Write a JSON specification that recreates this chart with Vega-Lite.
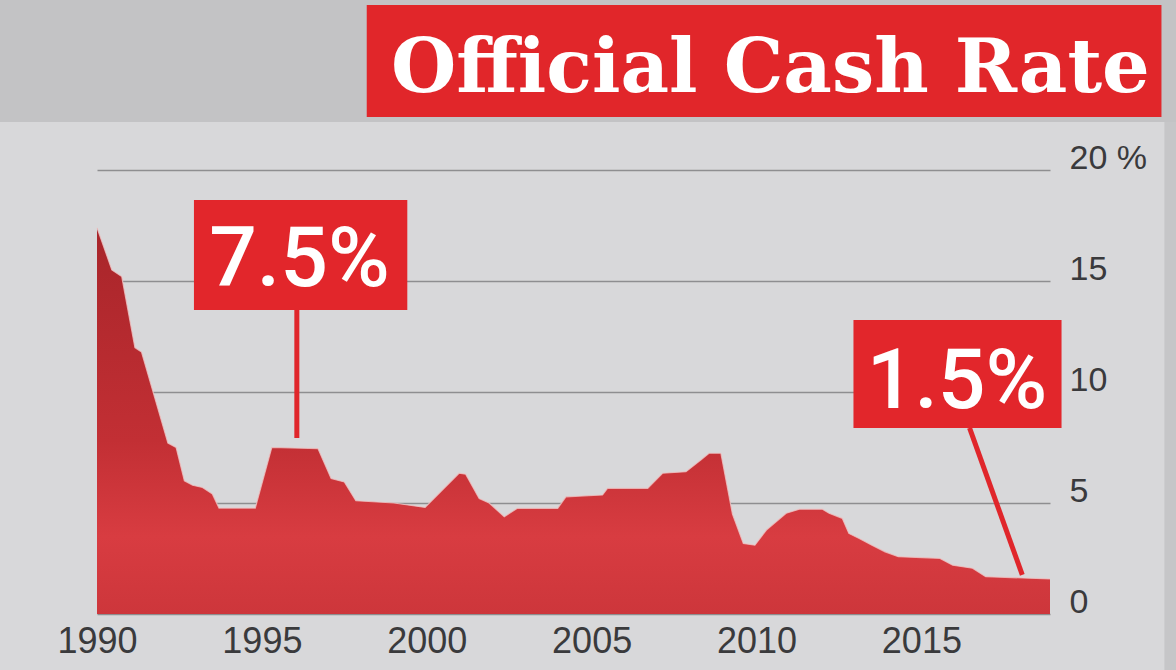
{
  "$schema": "https://vega.github.io/schema/vega-lite/v6.json",
  "width": 953,
  "height": 444,
  "autosize": {"type": "none"},
  "padding": {"left": 97, "top": 170, "right": 126, "bottom": 56},
  "background": "#d8d8da",
  "config": {"view": {"stroke": null}},
  "data": {
    "values": [
      {"year": 1990.0, "rate": 17.4},
      {"year": 1990.45, "rate": 15.5},
      {"year": 1990.75, "rate": 15.2},
      {"year": 1991.15, "rate": 12.0},
      {"year": 1991.35, "rate": 11.8},
      {"year": 1992.15, "rate": 7.7},
      {"year": 1992.4, "rate": 7.5},
      {"year": 1992.65, "rate": 6.0},
      {"year": 1992.9, "rate": 5.8},
      {"year": 1993.2, "rate": 5.7},
      {"year": 1993.5, "rate": 5.4},
      {"year": 1993.7, "rate": 4.77},
      {"year": 1994.8, "rate": 4.77},
      {"year": 1995.3, "rate": 7.5},
      {"year": 1996.7, "rate": 7.45},
      {"year": 1997.1, "rate": 6.1},
      {"year": 1997.5, "rate": 5.95},
      {"year": 1997.85, "rate": 5.1},
      {"year": 1999.0, "rate": 5.0},
      {"year": 1999.95, "rate": 4.8},
      {"year": 2000.98, "rate": 6.34},
      {"year": 2001.18, "rate": 6.3},
      {"year": 2001.59, "rate": 5.2},
      {"year": 2001.89, "rate": 5.0},
      {"year": 2002.35, "rate": 4.38},
      {"year": 2002.75, "rate": 4.76},
      {"year": 2003.97, "rate": 4.76},
      {"year": 2004.22, "rate": 5.28},
      {"year": 2005.33, "rate": 5.36},
      {"year": 2005.48, "rate": 5.66},
      {"year": 2006.7, "rate": 5.66},
      {"year": 2007.15, "rate": 6.34},
      {"year": 2007.86, "rate": 6.41},
      {"year": 2008.31, "rate": 6.94},
      {"year": 2008.56, "rate": 7.24},
      {"year": 2008.92, "rate": 7.24},
      {"year": 2009.27, "rate": 4.5},
      {"year": 2009.6, "rate": 3.18},
      {"year": 2009.95, "rate": 3.1},
      {"year": 2010.3, "rate": 3.78},
      {"year": 2010.9, "rate": 4.54},
      {"year": 2011.3, "rate": 4.72},
      {"year": 2012.0, "rate": 4.72},
      {"year": 2012.2, "rate": 4.54},
      {"year": 2012.6, "rate": 4.31},
      {"year": 2012.8, "rate": 3.63},
      {"year": 2013.1, "rate": 3.41},
      {"year": 2013.5, "rate": 3.1},
      {"year": 2013.9, "rate": 2.8},
      {"year": 2014.3, "rate": 2.58},
      {"year": 2015.55, "rate": 2.51},
      {"year": 2015.95, "rate": 2.2},
      {"year": 2016.55, "rate": 2.06},
      {"year": 2016.95, "rate": 1.68},
      {"year": 2018.9, "rate": 1.58}
    ]
  },
  "layer": [
    {
      "data": {"values": [{}]},
      "mark": {"type": "rect", "color": "#c3c3c5", "clip": false},
      "encoding": {
        "x": {"datum": 1986.5, "type": "quantitative"},
        "x2": {"datum": 2023.5},
        "y": {"datum": 28.5, "type": "quantitative"},
        "y2": {"datum": 22.16}
      }
    },
    {
      "data": {"values": [{}]},
      "mark": {"type": "rect", "color": "#c6c6c8", "clip": false},
      "encoding": {
        "x": {"datum": 2022.37, "type": "quantitative"},
        "x2": {"datum": 2023.5},
        "y": {"datum": 22.16, "type": "quantitative"},
        "y2": {"datum": -3}
      }
    },
    {
      "mark": {
        "type": "area",
        "interpolate": "linear",
        "opacity": 1,
        "color": {
          "gradient": "linear",
          "x1": 0, "y1": 0, "x2": 0, "y2": 1,
          "stops": [
            {"offset": 0, "color": "#a8252a"},
            {"offset": 0.55, "color": "#c22f34"},
            {"offset": 0.8, "color": "#d83c41"},
            {"offset": 1, "color": "#cd363b"}
          ]
        },
        "line": {"color": "#efc4c4", "strokeWidth": 1.2, "opacity": 0.8}
      },
      "encoding": {
        "x": {
          "field": "year",
          "type": "quantitative",
          "scale": {"domain": [1990, 2018.9], "nice": false, "zero": false},
          "axis": {
            "values": [1990, 1995, 2000, 2005, 2010, 2015],
            "format": "d",
            "title": null,
            "domain": false,
            "ticks": false,
            "grid": false,
            "labelFont": "Liberation Sans",
            "labelFontSize": 36,
            "labelColor": "#3a3a3c",
            "labelPadding": 38,
            "labelBaseline": "alphabetic",
            "labelFlush": false,
            "labelOverlap": false
          }
        },
        "y": {
          "field": "rate",
          "type": "quantitative",
          "scale": {"domain": [0, 20], "nice": false},
          "axis": {
            "orient": "right",
            "values": [0, 5, 10, 15, 20],
            "title": null,
            "domain": false,
            "ticks": false,
            "grid": true,
            "gridColor": "#8e8e90",
            "gridWidth": 1.5,
            "labelFont": "Liberation Sans",
            "labelFontSize": 34,
            "labelColor": "#3a3a3c",
            "labelPadding": 19,
            "labelAlign": "left",
            "labelBaseline": "alphabetic",
            "labelOffset": -2,
            "labelOverlap": false,
            "labelExpr": "datum.value == 20 ? '20 %' : datum.label"
          }
        }
      }
    },
    {
      "data": {"values": [{}]},
      "mark": {"type": "rule", "color": "#e0262b", "strokeWidth": 5, "clip": false},
      "encoding": {
        "x": {"datum": 1996.06, "type": "quantitative"},
        "x2": {"datum": 1996.06},
        "y": {"datum": 13.7, "type": "quantitative"},
        "y2": {"datum": 7.93}
      }
    },
    {
      "data": {"values": [{}]},
      "mark": {"type": "rule", "color": "#e0262b", "strokeWidth": 5, "clip": false},
      "encoding": {
        "x": {"datum": 2016.46, "type": "quantitative"},
        "x2": {"datum": 2018.06},
        "y": {"datum": 8.38, "type": "quantitative"},
        "y2": {"datum": 1.76}
      }
    },
    {
      "data": {"values": [{}]},
      "mark": {"type": "rect", "color": "#e2262b", "clip": false},
      "encoding": {
        "x": {"datum": 1992.94, "type": "quantitative"},
        "x2": {"datum": 1999.41},
        "y": {"datum": 18.65, "type": "quantitative"},
        "y2": {"datum": 13.69}
      }
    },
    {
      "data": {"values": [{}]},
      "mark": {"type": "rect", "color": "#e2262b", "clip": false},
      "encoding": {
        "x": {"datum": 2012.94, "type": "quantitative"},
        "x2": {"datum": 2019.25},
        "y": {"datum": 13.24, "type": "quantitative"},
        "y2": {"datum": 8.38}
      }
    },
    {
      "data": {"values": [{}]},
      "mark": {"type": "text", "color": "#ffffff", "font": "Roboto", "fontWeight": 500, "fontSize": 84, "align": "center", "baseline": "alphabetic", "clip": false},
      "encoding": {
        "x": {"datum": 1996.14, "type": "quantitative"},
        "y": {"datum": 14.77, "type": "quantitative"},
        "text": {"value": "7.5%"}
      }
    },
    {
      "data": {"values": [{}]},
      "mark": {"type": "text", "color": "#ffffff", "font": "Roboto", "fontWeight": 500, "fontSize": 84, "align": "center", "baseline": "alphabetic", "clip": false},
      "encoding": {
        "x": {"datum": 2016.08, "type": "quantitative"},
        "y": {"datum": 9.28, "type": "quantitative"},
        "text": {"value": "1.5%"}
      }
    },
    {
      "data": {"values": [{}]},
      "mark": {"type": "rect", "color": "#e1262a", "clip": false},
      "encoding": {
        "x": {"datum": 1998.18, "type": "quantitative"},
        "x2": {"datum": 2022.28},
        "y": {"datum": 27.43, "type": "quantitative"},
        "y2": {"datum": 22.39}
      }
    },
    {
      "data": {"values": [{}]},
      "mark": {"type": "text", "color": "#ffffff", "font": "DejaVu Serif", "fontWeight": "bold", "fontSize": 75, "align": "center", "baseline": "alphabetic", "clip": false},
      "encoding": {
        "x": {"datum": 2010.42, "type": "quantitative"},
        "y": {"datum": 23.51, "type": "quantitative"},
        "text": {"value": "Official Cash Rate"}
      }
    }
  ]
}
